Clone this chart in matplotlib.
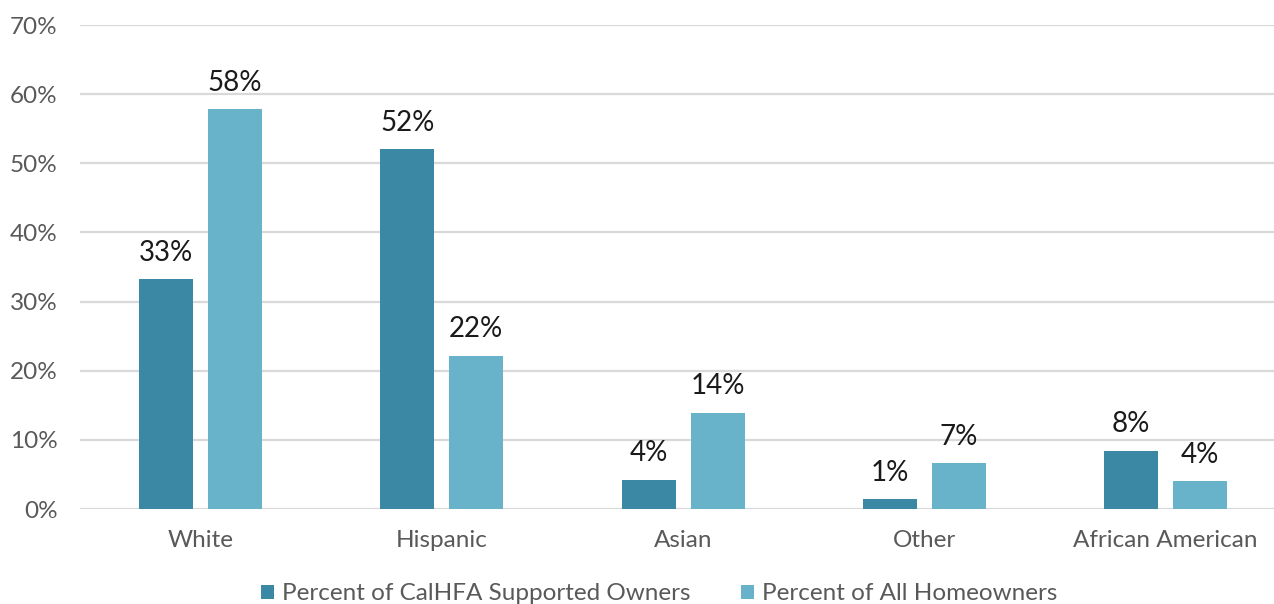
import matplotlib
matplotlib.use("Agg")
import matplotlib.pyplot as plt
import numpy as np

categories = ["White", "Hispanic", "Asian", "Other", "African American"]
calhfa_owners = [33.2, 52.0, 4.2, 1.4, 8.4]
all_homeowners = [57.8, 22.1, 13.9, 6.6, 4.0]
series_names = ["Percent of CalHFA Supported Owners", "Percent of All Homeowners"]
y_ticks = [0, 10, 20, 30, 40, 50, 60, 70]

dark_teal = "#3A88A3"
light_teal = "#68B3CA"
grid_gray = "#D9D9D9"
text_gray = "#595959"

plt.rcParams["font.family"] = ["Lato", "DejaVu Sans"]

fig = plt.figure(figsize=(12.74, 6.04), dpi=100)
ax = fig.add_axes([80 / 1274, 1 - 509 / 604, 1 - 80 / 1274, (509 - 25) / 604])

x = np.arange(len(categories))
offset = 0.143
width = 0.224

bars1 = ax.bar(x - offset, calhfa_owners, width, color=dark_teal, label=series_names[0], zorder=3)
bars2 = ax.bar(x + offset, all_homeowners, width, color=light_teal, label=series_names[1], zorder=3)

for bars, vals in ((bars1, calhfa_owners), (bars2, all_homeowners)):
    for b, v in zip(bars, vals):
        ax.annotate(f"{v:.0f}%", (b.get_x() + b.get_width() / 2, v),
                    xytext=(0, 13.5), textcoords="offset points",
                    ha="center", va="baseline", fontsize=20, color="#1a1a1a")

ax.set_xlim(-0.5, 4.45)
ax.set_ylim(0, 70)
ax.set_yticks(y_ticks)
ax.set_yticklabels([f"{t}%" for t in y_ticks])
ax.set_xticks(x)
ax.set_xticklabels(categories)
ax.tick_params(axis="both", length=0, labelsize=17.5, labelcolor=text_gray)
ax.tick_params(axis="y", pad=16)
ax.tick_params(axis="x", pad=15)
ax.yaxis.grid(True, color=grid_gray, linewidth=1.6, zorder=0)
ax.set_axisbelow(True)
for s in ax.spines.values():
    s.set_visible(False)

fig.legend(loc="center", bbox_to_anchor=(659 / 1274, 1 - 594 / 604), ncol=2,
           frameon=False, fontsize=17.5, labelcolor=text_gray,
           handlelength=0.55, handleheight=0.55, handletextpad=0.3, columnspacing=2.1)

fig.savefig("out.png", dpi=100)
